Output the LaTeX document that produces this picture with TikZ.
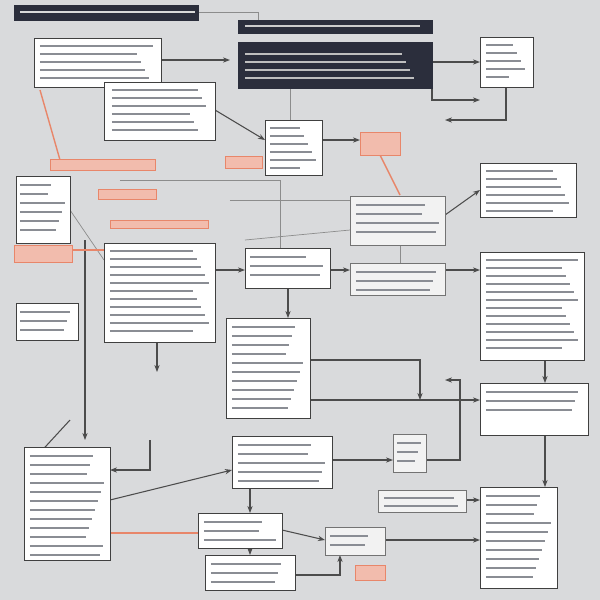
\documentclass[tikz,border=0pt]{standalone}
\usetikzlibrary{arrows.meta}
\definecolor{bg}{HTML}{D9DADC}
\definecolor{dark}{HTML}{2B2E3C}
\definecolor{org}{HTML}{E8866A}
\definecolor{txtc}{HTML}{8A8D94}
\tikzset{
 box/.style={draw=black!75,line width=0.6pt,fill=white,inner sep=0,anchor=north west},
 dbox/.style={draw=dark,fill=dark,inner sep=0,anchor=north west},
 gbox/.style={draw=black!55,fill=black!5,inner sep=0,anchor=north west},
 con/.style={draw=black!70,line width=0.6pt,-{Stealth[length=4pt]}},
 lcon/.style={draw=black!45,line width=0.4pt},
 ocon/.style={draw=org,line width=0.8pt},
 hl/.style={fill=org!55,draw=org},
}
% \bx{style}{name}{x1}{y1}{x2}{y2}{textcolor}
\newcommand{\bx}[7]{%
 \pgfmathsetmacro{\ww}{(#5-#3)*0.02}\pgfmathsetmacro{\hh}{(#6-#4)*0.02}%
 \node[#1,minimum width=\ww cm,minimum height=\hh cm] (#2) at (#3,#4) {};%
 \pgfmathsetmacro{\ya}{#4+7}\pgfmathsetmacro{\yb}{#4+8.5}\pgfmathsetmacro{\ye}{#6-4}%
 \foreach \yy in {\ya,\yb,...,\ye}{}%
 \pgfmathsetmacro{\yc}{#4+7}%
 \foreach \yy in {\yc,...,\ye}{}%
}
\newcommand{\lines}[6]{% x1 y1 x2 y2 step color
 \pgfmathsetmacro{\ya}{#2+#5}\pgfmathsetmacro{\yb}{#2+2*#5}%
 \foreach \yy in {\ya,\yb,...,#4}{\draw[#6,line width=1.1pt] (#1,\yy) -- ({#3-mod(\yy*7,20)},\yy);}%
}
\begin{document}
\begin{tikzpicture}[x=0.02cm,y=-0.02cm]
\fill[bg] (0,0) rectangle (600,600);
\useasboundingbox (0,0) rectangle (600,600);
% connectors (behind)
\coordinate (c1) at (300,-1);
\draw[lcon] (198,12) -- (258,12) -- (258,20);
\draw[con] (432,88) -- (432,100) -- (480,100);
\draw[con] (432,62) -- (480,62);
\draw[con] (506,88) -- (506,120) -- (445,120);
\draw[lcon] (290,88) -- (290,120);
\draw[con] (215,110) -- (265,140);
\draw[con] (160,60) -- (230,60);
\draw[con] (322,140) -- (360,140);
\draw[con] (445,215) -- (480,190);
\draw[con] (445,270) -- (480,270);
\draw[lcon] (400,245) -- (400,263);
\draw[con] (330,270) -- (350,270);
\draw[con] (215,270) -- (245,270);
\draw[con] (288,288) -- (288,318);
\draw[lcon] (70,210) -- (104,260);
\draw[con] (157,342) -- (157,372);
\draw[con] (85,240) -- (85,440);
\draw[con] (310,360) -- (420,360) -- (420,400);
\draw[con] (310,400) -- (480,400);
\draw[con] (545,360) -- (545,383);
\draw[con] (545,435) -- (545,487);
\draw[con] (332,460) -- (393,460);
\draw[con] (426,460) -- (460,460) -- (460,380) -- (445,380);
\draw[con] (110,500) -- (232,470);
\draw[con] (282,530) -- (325,540);
\draw[con] (385,540) -- (480,540);
\draw[con] (466,500) -- (480,500);
\draw[con] (250,488) -- (250,513);
\draw[con] (250,548) -- (250,555);
\draw[con] (295,575) -- (340,575) -- (340,555);
\draw[con] (70,420) -- (24,470);
\draw[con] (150,440) -- (150,470) -- (110,470);
\draw[lcon] (230,200) -- (350,200);
\draw[lcon] (120,180) -- (280,180) -- (280,250);
\draw[lcon] (245,240) -- (350,230);
\draw[ocon] (40,90) -- (60,160);
\draw[ocon] (110,533) -- (198,533);
\draw[ocon] (72,250) -- (104,250);
\draw[ocon] (380,155) -- (400,195);
% orange highlights
\fill[hl] (50,159) rectangle (155,170);
\fill[hl] (14,245) rectangle (72,262);
\fill[hl] (98,189) rectangle (156,199);
\fill[hl] (225,156) rectangle (262,168);
\fill[hl] (360,132) rectangle (400,155);
\fill[hl] (355,565) rectangle (385,580);
\fill[hl] (110,220) rectangle (208,228);
% dark boxes
\bx{dbox}{t1}{14}{5}{198}{20}{}
\draw[white!85!black,line width=1.3pt] (20,12) -- (195,12);
\bx{dbox}{t2}{238}{20}{432}{33}{}
\draw[white!80!black,line width=1pt] (245,26) -- (420,26);
\bx{dbox}{t3}{238}{42}{432}{88}{}
\lines{245}{46}{420}{78}{8}{white!75!black}
% white boxes
\bx{box}{A}{34}{38}{161}{87}{}\lines{40}{38}{155}{82}{8}{txtc}
\bx{box}{B}{104}{82}{215}{140}{}\lines{112}{82}{208}{135}{8}{txtc}
\bx{box}{C}{265}{120}{322}{175}{}\lines{270}{120}{316}{170}{8}{txtc}
\bx{box}{D}{480}{37}{533}{87}{}\lines{486}{37}{528}{82}{8}{txtc}
\bx{box}{E}{480}{163}{576}{217}{}\lines{486}{163}{570}{212}{8}{txtc}
\bx{box}{F}{16}{176}{70}{243}{}\lines{20}{176}{66}{238}{9}{txtc}
\bx{box}{V}{16}{303}{78}{340}{}\lines{20}{303}{74}{335}{9}{txtc}
\bx{box}{G}{104}{243}{215}{342}{}\lines{110}{243}{210}{337}{8}{txtc}
\bx{gbox}{I}{350}{196}{445}{245}{}\lines{356}{196}{440}{240}{9}{txtc}
\bx{box}{H}{245}{248}{330}{288}{}\lines{250}{248}{325}{283}{9}{txtc}
\bx{gbox}{J}{350}{263}{445}{295}{}\lines{356}{263}{440}{290}{9}{txtc}
\bx{box}{K}{480}{252}{584}{360}{}\lines{486}{252}{578}{355}{8}{txtc}
\bx{box}{L}{226}{318}{310}{418}{}\lines{232}{318}{304}{412}{9}{txtc}
\bx{box}{M}{480}{383}{588}{435}{}\lines{486}{383}{582}{415}{9}{txtc}
\bx{box}{N}{24}{447}{110}{560}{}\lines{30}{447}{105}{555}{9}{txtc}
\bx{box}{O}{232}{436}{332}{488}{}\lines{238}{436}{326}{482}{9}{txtc}
\bx{gbox}{P}{393}{434}{426}{472}{}\lines{397}{434}{422}{466}{9}{txtc}
\bx{gbox}{T}{378}{490}{466}{512}{}\lines{384}{490}{460}{508}{8}{txtc}
\bx{gbox}{U}{325}{527}{385}{555}{}\lines{330}{527}{380}{550}{9}{txtc}
\bx{box}{Q}{198}{513}{282}{548}{}\lines{204}{513}{276}{543}{9}{txtc}
\bx{box}{R}{205}{555}{295}{590}{}\lines{211}{555}{289}{585}{9}{txtc}
\bx{box}{S}{480}{487}{557}{588}{}\lines{486}{487}{552}{583}{9}{txtc}
\end{tikzpicture}
\end{document}
